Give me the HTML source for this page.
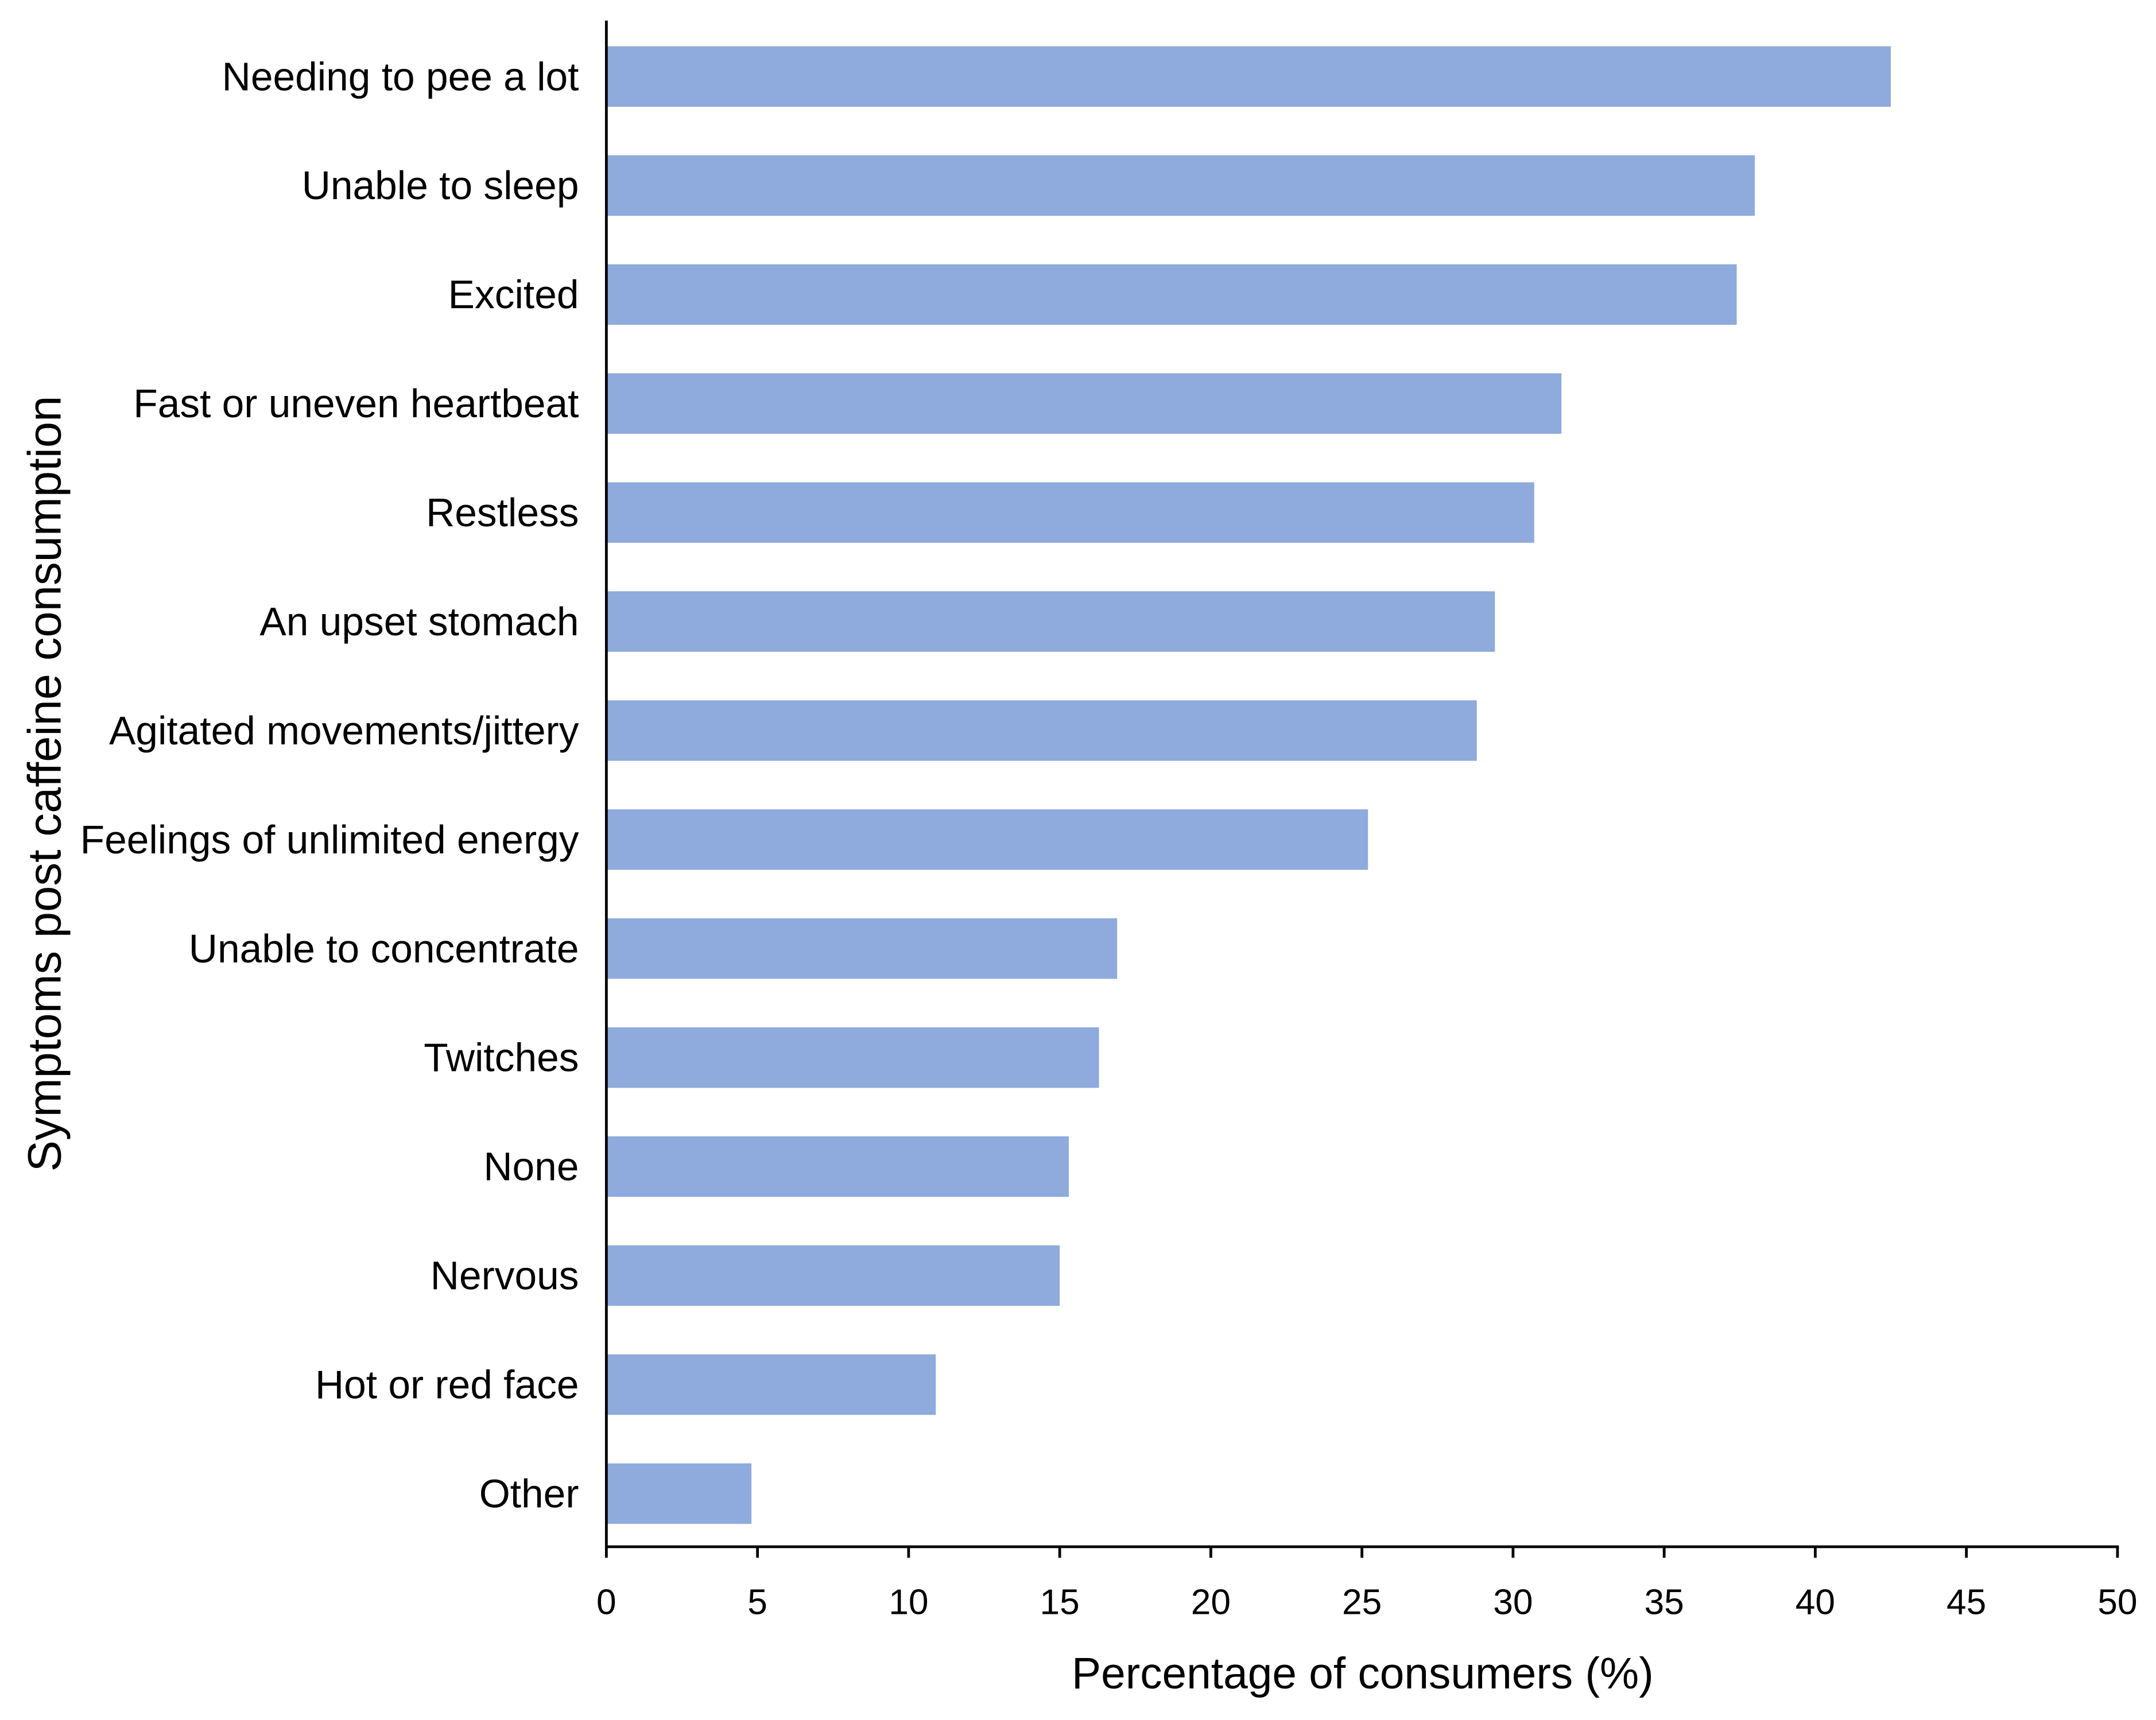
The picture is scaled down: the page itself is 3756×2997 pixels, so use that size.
<!DOCTYPE html>
<html><head><meta charset="utf-8"><style>html,body{margin:0;padding:0;background:#fff}svg{display:block}</style></head>
<body>
<svg id="chart" width="3756" height="2997" viewBox="0 0 1568 1251" preserveAspectRatio="none" xmlns="http://www.w3.org/2000/svg" font-family="'Liberation Sans', sans-serif">
<rect width="1568" height="1251" fill="#fff"/>
<g id="bars"></g>
<g id="ylabels"></g>
<g id="xticks"></g>
<line x1="441" y1="15" x2="441" y2="1126" stroke="#000" stroke-width="2"/>
<line x1="440" y1="1125" x2="1541" y2="1125" stroke="#000" stroke-width="2"/>
<text x="991" y="1228" text-anchor="middle" font-size="32" fill="#000">Percentage of consumers (%)</text>
<text transform="translate(44,570) rotate(-90)" text-anchor="middle" font-size="34" fill="#000">Symptoms post caffeine consumption</text>
</svg>
<script>
const categories = ["Needing to pee a lot","Unable to sleep","Excited","Fast or uneven heartbeat","Restless","An upset stomach","Agitated movements/jittery","Feelings of unlimited energy","Unable to concentrate","Twitches","None","Nervous","Hot or red face","Other"];
const values = [42.5,38,37.4,31.6,30.7,29.4,28.8,25.2,16.9,16.3,15.3,15.0,10.9,4.8];
const xTicks = [0,5,10,15,20,25,30,35,40,45,50];
const NS="http://www.w3.org/2000/svg";
const x0=441,x1=1540,xmax=50;
const xs=v=>x0+(x1-x0)*v/xmax;
const yTop=16,yBot=1126,band=(yBot-yTop)/categories.length;
const yc=i=>yTop+band*(i+0.5);
const bh=44;
const bars=document.getElementById('bars'),yl=document.getElementById('ylabels'),xt=document.getElementById('xticks');
categories.forEach((c,i)=>{
  const r=document.createElementNS(NS,'rect');
  
  
  r.setAttribute('x',xs(0));r.setAttribute('y',yc(i)-bh/2);
  r.setAttribute('width',xs(values[i])-xs(0));r.setAttribute('height',bh);
  r.setAttribute('fill','#8faadc');bars.appendChild(r);
  const t=document.createElementNS(NS,'text');
  
  
  t.setAttribute('x',421);t.setAttribute('y',yc(i)+10);t.setAttribute('text-anchor','end');
  t.setAttribute('font-size','29');t.textContent=c;yl.appendChild(t);
});
xTicks.forEach(v=>{
  const l=document.createElementNS(NS,'line');
  
  
  l.setAttribute('x1',xs(v));l.setAttribute('x2',xs(v));l.setAttribute('y1',1125);l.setAttribute('y2',1133);
  l.setAttribute('stroke','#000');l.setAttribute('stroke-width','2');xt.appendChild(l);
  const t=document.createElementNS(NS,'text');
  
  
  t.setAttribute('x',xs(v));t.setAttribute('y',1174);t.setAttribute('text-anchor','middle');
  t.setAttribute('font-size','26');t.textContent=v;xt.appendChild(t);
});
</script>
</body></html>
